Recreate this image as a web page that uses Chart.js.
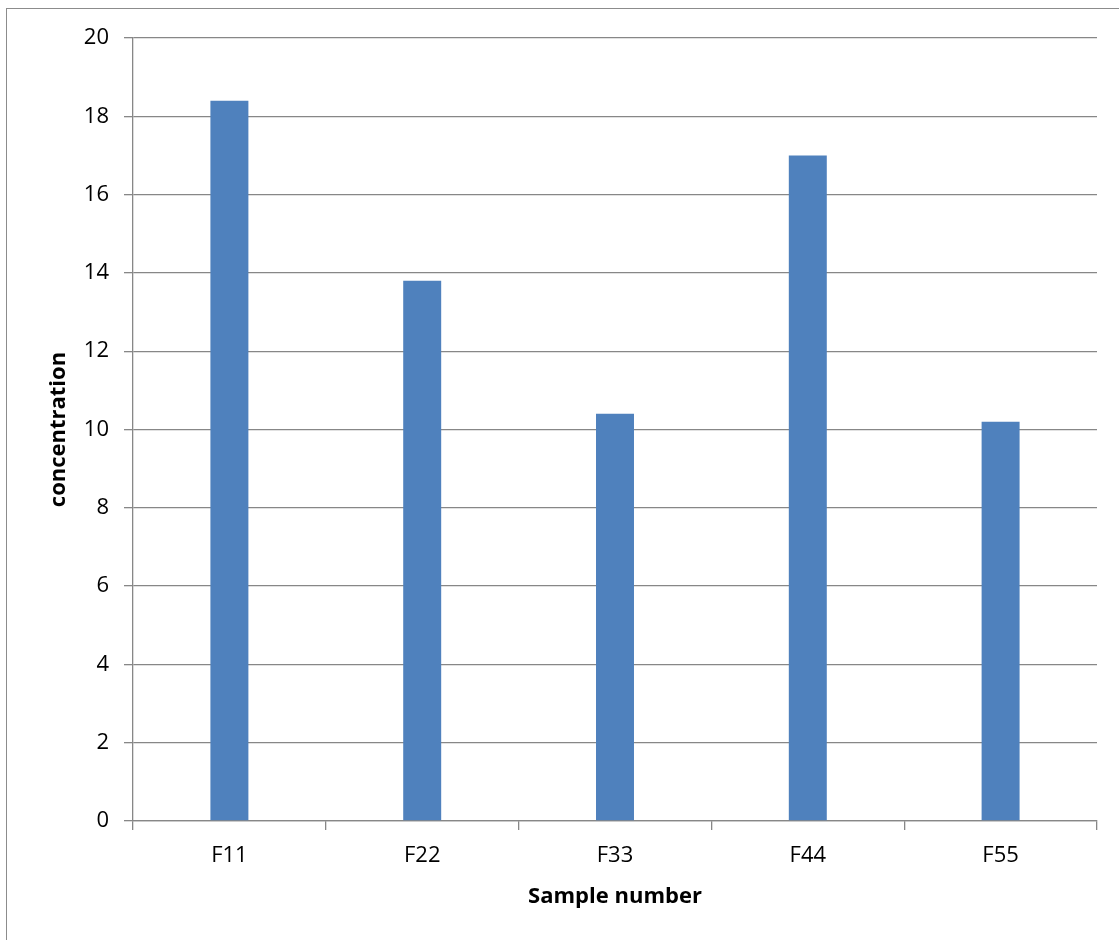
<!DOCTYPE html>
<html lang="en">
<head>
    <meta charset="UTF-8">
    <title>concentration by sample</title>
    <style>
        html, body { margin: 0; padding: 0; background: #fff; overflow: hidden; }
        #wrap { position: relative; width: 1119px; height: 940px; }
        #frame { position: absolute; left: 6px; top: 8px; width: 2000px; height: 2000px; border: 1px solid #8c8c8c; }
        #chart-container { position: absolute; left: 0; top: 0; width: 1119px; height: 940px; }
    </style>
    <script src="https://cdn.jsdelivr.net/npm/chart.js"></script>
</head>
<body>
<div id="wrap">
    <div id="frame"></div>
    <div id="chart-container">
        <canvas id="dataChart" width="1119" height="940"></canvas>
    </div>
</div>
<script>
    const samples = ['F11', 'F22', 'F33', 'F44', 'F55'];
    const concentration = [18.4, 13.8, 10.4, 17.0, 10.2];
    const yTicks = [0, 2, 4, 6, 8, 10, 12, 14, 16, 18, 20];

    const gridColor = '#878787';
    const fontFamily = '"Open Sans", "Liberation Sans", sans-serif';

    const ctx = document.getElementById('dataChart').getContext('2d');
    new Chart(ctx, {
        type: 'bar',
        data: {
            labels: samples,
            datasets: [{
                label: 'concentration',
                data: concentration,
                backgroundColor: '#4f81bd',
                borderWidth: 0,
                categoryPercentage: 1,
                barPercentage: 0.197
            }]
        },
        options: {
            responsive: false,
            animation: false,
            layout: { padding: { top: 38, right: 22, bottom: 0, left: 0 } },
            plugins: { legend: { display: false }, tooltip: { enabled: false } },
            scales: {
                x: {
                    grid: { drawOnChartArea: false, color: gridColor, lineWidth: 1.3, tickLength: 9, offset: true },
                    border: { color: gridColor, width: 1.3 },
                    ticks: { color: '#000', padding: 13, font: { family: fontFamily, size: 22 } },
                    title: {
                        display: true, text: 'Sample number', color: '#000',
                        padding: { top: 0, bottom: 30 },
                        font: { family: fontFamily, size: 22, weight: 'bold' }
                    },
                    afterFit: s => { s.height = 119; }
                },
                y: {
                    min: 0, max: 20,
                    afterBuildTicks: s => { s.ticks = yTicks.map(v => ({ value: v })); },
                    grid: { color: gridColor, lineWidth: 1.3, tickLength: 9 },
                    border: { color: gridColor, width: 1.3 },
                    ticks: { color: '#000', padding: 15, font: { family: fontFamily, size: 22 } },
                    title: {
                        display: true, text: 'concentration', color: '#000',
                        padding: { top: 46, bottom: 0 },
                        font: { family: fontFamily, size: 22, weight: 'bold' }
                    },
                    afterFit: s => { s.width = 133; }
                }
            }
        }
    });
</script>
</body>
</html>
